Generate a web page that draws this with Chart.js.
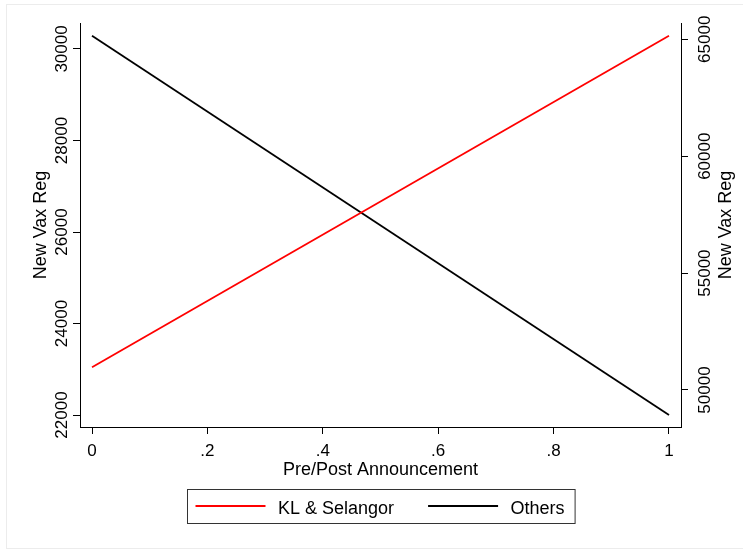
<!DOCTYPE html>
<html>
<head>
<meta charset="utf-8">
<script src="https://cdn.jsdelivr.net/npm/chart.js@4/dist/chart.umd.min.js"></script>
<style>
  html, body { margin: 0; padding: 0; background: #ffffff; }
  canvas { display: block; }
</style>
</head>
<body>
<canvas id="chart" width="743" height="550"></canvas>
<script>
// Pre/post announcement: new vaccine registrations
const xValues = [0, 1];
const klSelangor = [23043, 30291];   // left axis
const others = [65154, 48931];       // right axis

const xTicks = [0, 0.2, 0.4, 0.6, 0.8, 1];
const leftTicks = [22000, 24000, 26000, 28000, 30000];
const rightTicks = [50000, 55000, 60000, 65000];

const seriesLabels = ['KL & Selangor', 'Others'];
const axisTitleX = 'Pre/Post Announcement';
const axisTitleY = 'New Vax Reg';

const FONT = '"Liberation Sans", Arial, Helvetica, sans-serif';

function fmtX(v) {
  if (v === 0) return '0';
  if (v === 1) return '1';
  return String(v).replace(/^0/, '');
}

const axisLine = { display: true, color: '#000000', width: 1 };
const tickMarks = {
  drawOnChartArea: false,
  drawTicks: true,
  tickLength: 7,
  tickColor: '#000000',
  tickWidth: 1
};

// Rotated y tick labels, axis titles, legend box and outer frame
const decorations = {
  id: 'decorations',
  afterDraw(chart) {
    const ctx = chart.ctx;
    const area = chart.chartArea;
    const midY = (area.top + area.bottom) / 2;
    const midX = (area.left + area.right) / 2;
    ctx.save();

    // faint frame around the whole graph region
    ctx.strokeStyle = '#ececec';
    ctx.lineWidth = 1;
    ctx.strokeRect(6.5, 4.5, 745, 544);

    ctx.fillStyle = '#000000';
    ctx.font = '17px ' + FONT;
    ctx.textAlign = 'center';
    ctx.textBaseline = 'alphabetic';

    const drawVertical = (text, x, y) => {
      ctx.save();
      ctx.translate(x, y);
      ctx.rotate(-Math.PI / 2);
      ctx.fillText(text, 0, 0);
      ctx.restore();
    };

    const yL = chart.scales.yL;
    yL.ticks.forEach(t => drawVertical(String(t.value), 66.5, yL.getPixelForValue(t.value)));
    const yR = chart.scales.yR;
    yR.ticks.forEach(t => drawVertical(String(t.value), 710, yR.getPixelForValue(t.value)));

    ctx.font = '18px ' + FONT;
    drawVertical(axisTitleY, 46, midY);
    drawVertical(axisTitleY, 730.5, midY);
    ctx.fillText(axisTitleX, midX, 475);

    // legend
    const lineLen = 70, gap = 12.5, itemGap = 34, padL = 8, padR = 10.5;
    const widths = chart.data.datasets.map(d => ctx.measureText(d.label).width);
    const content = chart.data.datasets.reduce((s, d, i) => s + lineLen + gap + widths[i], 0) + itemGap * (chart.data.datasets.length - 1);
    const boxW = content + padL + padR;
    const boxX = Math.round(midX - boxW / 2) + 0.5;
    const boxY = 489.5, boxH = 34;
    ctx.strokeStyle = '#333333';
    ctx.lineWidth = 1;
    ctx.strokeRect(boxX, boxY, boxW, boxH);
    let x = boxX + padL;
    ctx.textAlign = 'left';
    chart.data.datasets.forEach((d, i) => {
      ctx.strokeStyle = d.borderColor;
      ctx.lineWidth = d.borderWidth;
      ctx.beginPath();
      ctx.moveTo(x, 506);
      ctx.lineTo(x + lineLen, 506);
      ctx.stroke();
      x += lineLen + gap;
      ctx.fillText(d.label, x, 513.5);
      x += widths[i] + itemGap;
    });

    ctx.restore();
  }
};

new Chart(document.getElementById('chart'), {
  type: 'line',
  data: {
    datasets: [
      {
        label: seriesLabels[0],
        data: xValues.map((x, i) => ({ x, y: klSelangor[i] })),
        borderColor: '#ff0000',
        borderWidth: 1.8,
        pointRadius: 0,
        tension: 0,
        yAxisID: 'yL'
      },
      {
        label: seriesLabels[1],
        data: xValues.map((x, i) => ({ x, y: others[i] })),
        borderColor: '#000000',
        borderWidth: 1.8,
        pointRadius: 0,
        tension: 0,
        yAxisID: 'yR'
      }
    ]
  },
  options: {
    responsive: false,
    animation: false,
    events: [],
    layout: { padding: { top: 23, left: 0, right: 0, bottom: 0 } },
    plugins: {
      legend: { display: false },
      tooltip: { enabled: false }
    },
    scales: {
      x: {
        type: 'linear',
        position: 'bottom',
        min: -0.0208,
        max: 1.0208,
        border: axisLine,
        grid: tickMarks,
        afterBuildTicks: s => { s.ticks = xTicks.map(v => ({ value: v })); },
        afterFit: s => { s.height = 123; },
        ticks: {
          color: '#000000',
          font: { family: FONT, size: 17 },
          padding: 7,
          maxRotation: 0,
          autoSkip: false,
          callback: v => fmtX(v)
        }
      },
      yL: {
        type: 'linear',
        position: 'left',
        min: 21738,
        max: 30568,
        border: axisLine,
        grid: tickMarks,
        afterBuildTicks: s => { s.ticks = leftTicks.map(v => ({ value: v })); },
        afterFit: s => { s.width = 80; },
        ticks: { display: false }
      },
      yR: {
        type: 'linear',
        position: 'right',
        min: 48417,
        max: 65697,
        border: axisLine,
        grid: tickMarks,
        afterBuildTicks: s => { s.ticks = rightTicks.map(v => ({ value: v })); },
        afterFit: s => { s.width = 62; },
        ticks: { display: false }
      }
    }
  },
  plugins: [decorations]
});
</script>
</body>
</html>
